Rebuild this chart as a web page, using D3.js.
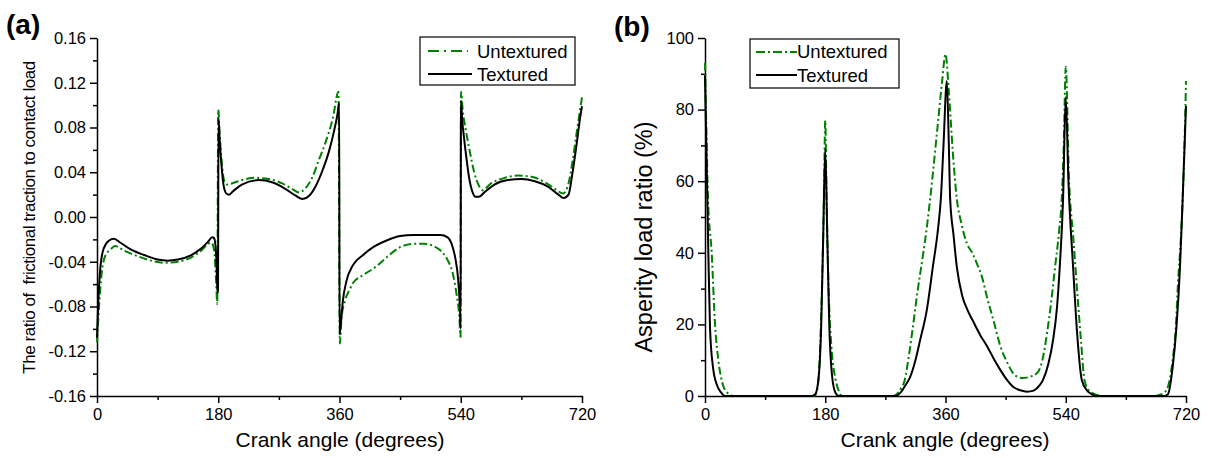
<!DOCTYPE html>
<html>
<head>
<meta charset="utf-8">
<script src="https://cdn.jsdelivr.net/npm/d3@7"></script>
<style>
  body { margin: 0; background: #fff; }
  svg text { font-family: Arial, "Liberation Sans", sans-serif; fill: #000; }
</style>
</head>
<body>
<div id="chart"></div>
<script>
// ---- panel (a): ratio of frictional traction to contact load ----
const angleTexA = [0, 2, 5, 10, 18, 25, 35, 50, 70, 90, 105, 120, 140, 155, 165, 171, 174, 177, 179, 179.6,
  180.4, 182, 185, 188, 192, 196, 202, 215, 240, 260, 280, 295, 305, 315, 325, 335, 345, 352, 357, 359.6,
  360, 362, 365, 370, 380, 395, 410, 430, 450, 470, 490, 510, 520, 527, 532, 536, 539, 539.8,
  540.3, 542, 545, 549, 553, 557, 562, 567, 575, 590, 610, 630, 650, 670, 685, 693, 700, 706, 712, 717, 720];
const fricTex = [-0.108, -0.075, -0.045, -0.028, -0.021, -0.0195, -0.023, -0.029, -0.034, -0.038, -0.039, -0.038, -0.034, -0.028, -0.022, -0.018, -0.019, -0.035, -0.068, -0.066,
  0.088, 0.07, 0.045, 0.028, 0.021, 0.020, 0.023, 0.029, 0.033, 0.031, 0.025, 0.019, 0.016, 0.019, 0.028, 0.042, 0.060, 0.077, 0.092, 0.102,
  -0.105, -0.095, -0.075, -0.058, -0.043, -0.034, -0.027, -0.021, -0.017, -0.016, -0.016, -0.016, -0.018, -0.025, -0.037, -0.055, -0.085, -0.100,
  0.104, 0.088, 0.07, 0.05, 0.033, 0.023, 0.018, 0.018, 0.022, 0.029, 0.033, 0.034, 0.032, 0.027, 0.020, 0.017, 0.020, 0.040, 0.065, 0.088, 0.099];

const angleUntA = [0, 3, 7, 12, 20, 27, 40, 60, 80, 100, 120, 140, 155, 165, 170, 174, 177, 178.5,
  180, 182, 185, 189, 193, 200, 215, 235, 255, 275, 290, 300, 310, 320, 330, 340, 350, 358.5,
  360.5, 363, 368, 375, 380, 395, 415, 430, 450, 470, 485, 500, 510, 520, 528, 534, 538, 539.7,
  540.3, 543, 548, 553, 560, 567, 572, 585, 605, 625, 645, 665, 680, 692, 700, 706, 712, 717, 720];
const fricUnt = [-0.112, -0.08, -0.05, -0.035, -0.029, -0.026, -0.030, -0.035, -0.039, -0.041, -0.040, -0.036, -0.030, -0.024, -0.023, -0.030, -0.060, -0.078,
  0.096, 0.075, 0.050, 0.032, 0.029, 0.030, 0.033, 0.035, 0.034, 0.030, 0.025, 0.022, 0.026, 0.036, 0.052, 0.068, 0.088, 0.112,
  -0.113, -0.09, -0.075, -0.065, -0.059, -0.052, -0.044, -0.036, -0.027, -0.024, -0.024, -0.026, -0.030, -0.038, -0.050, -0.070, -0.090, -0.107,
  0.112, 0.095, 0.076, 0.060, 0.040, 0.028, 0.024, 0.030, 0.035, 0.037, 0.036, 0.031, 0.025, 0.021, 0.030, 0.050, 0.075, 0.095, 0.107];

// ---- panel (b): asperity load ratio (%) ----
const angleTexB = [0, 2, 3.5, 5, 7.5, 12, 18, 24, 30, 160, 165, 170, 174, 177, 180, 183, 186, 190, 195, 200,
  285, 292, 300, 307, 315, 322, 332, 341, 349, 353, 357, 362, 365, 367, 372, 377, 385, 393, 401, 412, 422, 432, 442, 452, 461, 472, 482, 492, 500, 506, 514, 521, 527, 531, 536,
  540, 544, 551, 557, 564, 572, 579, 585, 688, 693, 700, 706, 711, 715, 720];
const loadTex = [89.5, 70, 55, 40, 19, 8, 3, 1, 0, 0, 0.5, 5, 20, 45, 69, 45, 20, 6, 1, 0,
  0, 0.8, 3, 5.3, 10, 15.6, 24, 36, 47, 55, 70, 88, 70, 55, 45, 36, 28, 24, 21, 17, 14, 10.5, 7.3, 4.5, 2.6, 1.6, 1.2, 1.5, 2.8, 4.5, 9, 15.6, 25, 36, 55,
  83.5, 60, 36, 17.6, 4.5, 1.5, 0.5, 0, 0, 0.5, 8, 20, 36, 55, 81];

const angleUntB = [0, 2, 4.5, 10, 15, 20, 27, 33, 42, 163, 167, 171, 175, 178, 180, 182, 185, 190, 195, 200, 205,
  280, 287, 293, 299, 305, 311, 318, 326, 332, 337, 348, 355, 360, 365, 371, 377, 384, 392, 400, 407, 415, 422, 432, 442, 452, 461, 468, 475, 485, 497, 505, 512, 518, 524, 530, 534, 537,
  540, 545, 551, 558, 563, 568, 575, 587, 595, 675, 680, 688, 695, 700, 705, 708, 712, 715, 718, 720];
const loadUnt = [93, 75, 55, 40, 20, 10, 3, 1, 0, 0, 1, 8, 30, 55, 77, 55, 30, 12, 5, 1.5, 0,
  0, 0.5, 2, 4.5, 11, 19, 29, 39, 47, 55, 75, 88, 95.5, 85, 68, 55, 48, 42.6, 40, 37, 33, 27.7, 21, 14, 9.5, 6.4, 5.3, 5, 5.3, 6.4, 10, 17.6, 26, 36, 46, 55, 70,
  92, 60, 45, 27, 15, 4.5, 1.5, 0.3, 0, 0, 0.3, 1, 4, 10, 20, 31.5, 43, 55, 72, 88];

// ticks
const xMajor = [0, 180, 360, 540, 720];
const xMinor = [90, 270, 450, 630];
const yMajorA = [-0.16, -0.12, -0.08, -0.04, 0, 0.04, 0.08, 0.12, 0.16];
const yMinorA = [-0.14, -0.10, -0.06, -0.02, 0.02, 0.06, 0.10, 0.14];
const yMajorB = [0, 20, 40, 60, 80, 100];
const yMinorB = [10, 30, 50, 70, 90];

const green = '#008000';
const dashDot = '8,3,2,3';

const svg = d3.select('#chart').append('svg')
  .attr('width', 1213).attr('height', 458);

function drawAxes(x, y, yMajor, yMinor, yFmt) {
  const bottom = y.range()[0], left = x.range()[0];
  const gx = svg.append('g').attr('transform', `translate(0,${bottom})`);
  gx.call(d3.axisBottom(x).tickValues(xMinor).tickSize(4).tickFormat(''));
  gx.call(g => g.select('.domain').remove());
  const gx2 = svg.append('g').attr('transform', `translate(0,${bottom})`)
    .call(d3.axisBottom(x).tickValues(xMajor).tickSize(7).tickSizeOuter(0).tickPadding(5).tickFormat(d => d));
  gx2.selectAll('text').style('font-size', '16.5px');

  const gy = svg.append('g').attr('transform', `translate(${left},0)`);
  gy.call(d3.axisLeft(y).tickValues(yMinor).tickSize(4).tickFormat(''));
  gy.call(g => g.select('.domain').remove());
  const gy2 = svg.append('g').attr('transform', `translate(${left},0)`)
    .call(d3.axisLeft(y).tickValues(yMajor).tickSize(7).tickSizeOuter(0).tickPadding(4).tickFormat(yFmt));
  gy2.selectAll('text').style('font-size', '16.5px');

  svg.selectAll('.domain, .tick line').attr('stroke', '#000').attr('stroke-width', 1.5);
}

function drawLine(x, y, xs, ys, color, dash) {
  const pts = xs.map((a, i) => [a, ys[i]]);
  const line = d3.line().x(d => x(d[0])).y(d => y(d[1])).curve(d3.curveMonotoneX);
  svg.append('path').datum(pts)
    .attr('d', line)
    .attr('fill', 'none')
    .attr('stroke', color)
    .attr('stroke-width', 2)
    .attr('stroke-dasharray', dash);
}

function drawLegend(bx, by, bw, bh, lx0, lx1, tx, rows) {
  svg.append('rect').attr('x', bx).attr('y', by).attr('width', bw).attr('height', bh)
    .attr('fill', '#fff').attr('stroke', '#000').attr('stroke-width', 1.2);
  rows.forEach(r => {
    svg.append('line').attr('x1', lx0).attr('x2', r.x1 || lx1).attr('y1', r.y).attr('y2', r.y)
      .attr('stroke', r.color).attr('stroke-width', 2).attr('stroke-dasharray', r.dash);
    svg.append('text').attr('x', tx).attr('y', r.base).style('font-size', '18.5px').text(r.label);
  });
}

// ---- panel (a) ----
const xA = d3.scaleLinear().domain([0, 720]).range([97, 582]);
const yA = d3.scaleLinear().domain([-0.16, 0.16]).range([396, 38]);
drawAxes(xA, yA, yMajorA, yMinorA, d => d.toFixed(2));
drawLine(xA, yA, angleUntA, fricUnt, green, dashDot);
drawLine(xA, yA, angleTexA, fricTex, '#000', null);
drawLegend(420, 37, 155, 48, 428, 468, 477, [
  { y: 51, base: 58, color: green, dash: '11,5,2,5', label: 'Untextured' },
  { y: 74, base: 81, color: '#000', dash: null, x1: 472, label: 'Textured' }
]);
svg.append('text').attr('x', 340).attr('y', 447).attr('text-anchor', 'middle')
  .style('font-size', '21px').text('Crank angle (degrees)');
svg.append('text').attr('transform', 'translate(35,217.5) rotate(-90)').attr('text-anchor', 'middle')
  .style('font-size', '17px').style('letter-spacing', '-0.45px').style('white-space', 'pre')
  .text('The ratio of  frictional traction to contact load');
svg.append('text').attr('x', 6).attr('y', 34).style('font-size', '28px').style('font-weight', 'bold').text('(a)');

// ---- panel (b) ----
const xB = d3.scaleLinear().domain([0, 720]).range([705, 1186]);
const yB = d3.scaleLinear().domain([0, 100]).range([396, 38]);
drawAxes(xB, yB, yMajorB, yMinorB, d => d);
drawLine(xB, yB, angleUntB, loadUnt, green, dashDot);
drawLine(xB, yB, angleTexB, loadTex, '#000', null);
drawLegend(750, 39, 149, 49, 756, 797, 797, [
  { y: 52, base: 58, color: green, dash: '9,3,2,3', label: 'Untextured' },
  { y: 75, base: 82, color: '#000', dash: null, label: 'Textured' }
]);
svg.append('text').attr('x', 945).attr('y', 447).attr('text-anchor', 'middle')
  .style('font-size', '21px').text('Crank angle (degrees)');
svg.append('text').attr('transform', 'translate(652,237) rotate(-90)').attr('text-anchor', 'middle')
  .style('font-size', '23.5px').text('Asperity load ratio (%)');
svg.append('text').attr('x', 614).attr('y', 36).style('font-size', '28px').style('font-weight', 'bold').text('(b)');
</script>
</body>
</html>
